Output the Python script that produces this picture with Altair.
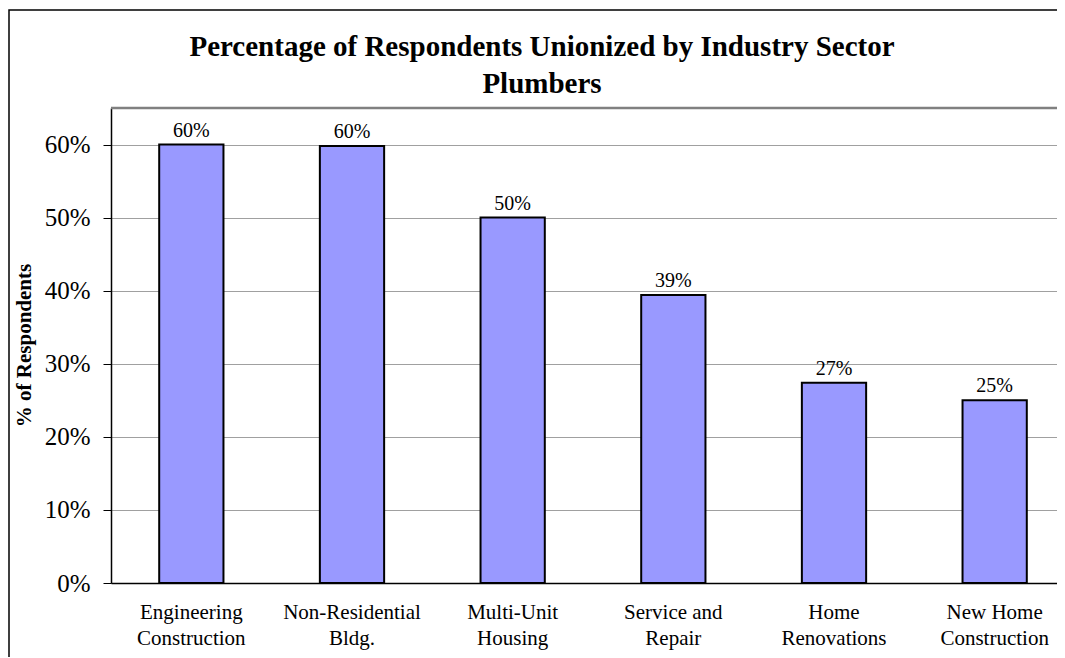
import altair as alt
import pandas as pd

sectors = [
    "Engineering\nConstruction",
    "Non-Residential\nBldg.",
    "Multi-Unit\nHousing",
    "Service and\nRepair",
    "Home\nRenovations",
    "New Home\nConstruction",
]
shares = [0.600, 0.598, 0.500, 0.394, 0.274, 0.250]
y_ticks = [0.0, 0.1, 0.2, 0.3, 0.4, 0.5, 0.6]
title_lines = ["Percentage of Respondents Unionized by Industry Sector", "Plumbers"]
y_title = "% of Respondents"

df = pd.DataFrame({"sector": sectors, "share": shares})
FONT = "Liberation Serif"

PLOT_W = 946

x_enc = alt.X(
    "sector:N",
    sort=sectors,
    scale=alt.Scale(range=[0, 964], paddingInner=0.6, paddingOuter=0.3),
    axis=alt.Axis(
        title=None,
        labelAngle=0,
        labelExpr="split(datum.label, '\\n')",
        labelFont=FONT,
        labelFontSize=21,
        labelColor="black",
        labelLineHeight=26,
        labelBaseline="alphabetic",
        labelPadding=35,
        labelLimit=400,
        ticks=False,
        tickSize=0,
        domainColor="black",
        domainWidth=1.5,
        grid=False,
    ),
)

y_enc = alt.Y(
    "share:Q",
    scale=alt.Scale(domain=[0, 0.65], nice=False, zero=True),
    axis=alt.Axis(
        values=y_ticks,
        format=".0%",
        title=y_title,
        titleFont=FONT,
        titleFontSize=21,
        titleFontWeight="bold",
        titleColor="black",
        titleAngle=270,
        titleX=-87,
        titleY=237,
        titleAlign="center",
        titleBaseline="middle",
        labelFont=FONT,
        labelFontSize=25,
        labelColor="black",
        labelPadding=13,
        tickSize=8,
        tickColor="black",
        tickWidth=1,
        domainColor="black",
        domainWidth=1.5,
        gridColor="#a0a0a0",
        gridWidth=1,
    ),
)

base = alt.Chart(df)

bars = base.mark_bar(color="#9999FF", stroke="black", strokeWidth=2).encode(x=x_enc, y=y_enc)

labels = base.mark_text(
    font=FONT, fontSize=20, baseline="alphabetic", dy=-8, color="black"
).encode(x=alt.X("sector:N", sort=sectors), y="share:Q", text=alt.Text("share:Q", format=".0%"))

one = pd.DataFrame({"k": [0]})

top_edge = alt.Chart(one).mark_rule(color="#808080", strokeWidth=2.5).encode(
    x=alt.value(0), x2=alt.value(PLOT_W + 20), y=alt.value(0)
)

border = alt.Chart(one).mark_rect(
    filled=False, stroke="black", strokeWidth=1.5
).encode(x=alt.value(-102), x2=alt.value(3000), y=alt.value(-98), y2=alt.value(3000))

title = alt.Chart(one).mark_text(
    text=title_lines,
    font=FONT,
    fontSize=29,
    fontWeight="bold",
    color="black",
    align="center",
    baseline="alphabetic",
    lineHeight=37,
).encode(x=alt.value(431), y=alt.value(-52))

chart = (
    alt.layer(top_edge, bars, labels, border, title)
    .properties(
        width=PLOT_W,
        height=475,
        autosize=alt.AutoSizeParams(type="none"),
        padding={"left": 103, "top": 100, "right": 0, "bottom": 74},
        background="white",
    )
    .configure_view(strokeWidth=0)
)

chart.save("out.html", embed_options={"renderer": "svg", "actions": False})
